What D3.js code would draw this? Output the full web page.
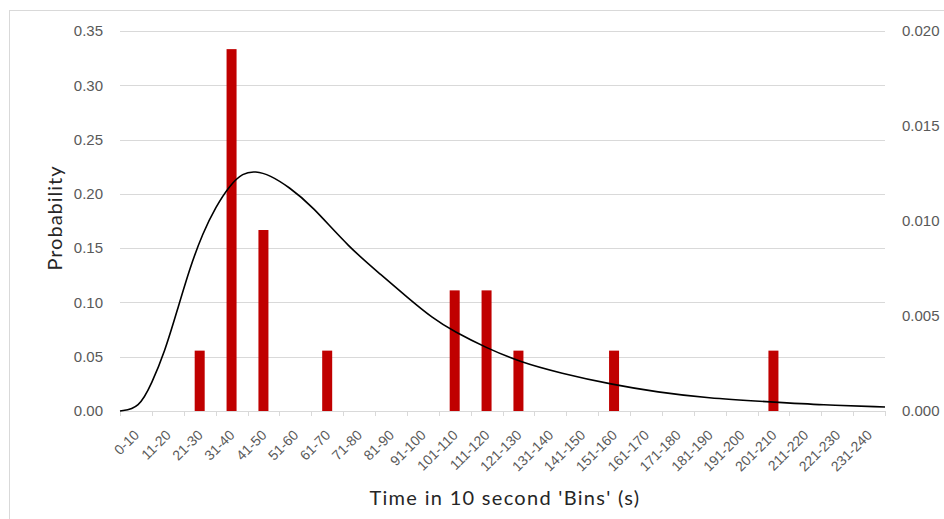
<!DOCTYPE html>
<html>
<head>
<meta charset="utf-8">
<script src="https://cdn.jsdelivr.net/npm/d3@7"></script>
<style>
  body { margin: 0; background: #fff; }
  svg { font-family: Lato, "Open Sans", sans-serif; }
</style>
</head>
<body>
<div id="chart"></div>
<script>
// bins on the x axis
var bins = ["0-10", "11-20", "21-30", "31-40", "41-50", "51-60", "61-70", "71-80",
  "81-90", "91-100", "101-110", "111-120", "121-130", "131-140", "141-150", "151-160",
  "161-170", "171-180", "181-190", "191-200", "201-210", "211-220", "221-230", "231-240"];

// observed probability per bin (bars, left axis)
var probs = [0, 0, 0.0556, 0.3333, 0.1667, 0, 0.0556, 0, 0, 0, 0.1111, 0.1111,
  0.0556, 0, 0, 0.0556, 0, 0, 0, 0, 0.0556, 0, 0, 0];

// fitted density curve (right axis)
var curveTimes = [0, 6, 10, 14, 18, 22, 26, 30, 34.5, 38.5, 42.5, 47, 53, 60,
  72, 82, 90, 98, 105, 115, 125.5, 138, 155, 168.5, 184, 205, 220, 240];
var curveDens = [0, 0.00014, 0.00147, 0.00310, 0.00532, 0.00758, 0.00937, 0.01074,
  0.01189, 0.01253, 0.01263, 0.01242, 0.01179, 0.01084, 0.00858, 0.00716,
  0.00600, 0.00489, 0.00416, 0.00332, 0.00258, 0.00200, 0.00137, 0.00100,
  0.00068, 0.00047, 0.00032, 0.00021];

var leftTicks = [0, 0.05, 0.10, 0.15, 0.20, 0.25, 0.30, 0.35];
var rightTicks = [0, 0.005, 0.010, 0.015, 0.020];

var svgWidth = 944;
var svgHeight = 519;

var margin = { top: 31, right: 59, bottom: 108, left: 120 };
var width = svgWidth - margin.left - margin.right;
var height = svgHeight - margin.top - margin.bottom;

var svg = d3.select("#chart")
  .append("svg")
  .attr("width", svgWidth)
  .attr("height", svgHeight);

// chart frame
svg.append("rect")
  .attr("x", 9.5)
  .attr("y", 10.5)
  .attr("width", 1000)
  .attr("height", 600)
  .attr("fill", "none")
  .attr("stroke", "#d9d9d9");

var chartGroup = svg.append("g")
  .attr("transform", `translate(${margin.left}, ${margin.top})`);

// scales
var xBand = d3.scaleBand().domain(bins).range([0, width]).paddingInner(0).paddingOuter(0);
var xTime = d3.scaleLinear().domain([0, 240]).range([0, width]);
var yLeft = d3.scaleLinear().domain([0, 0.35]).range([height, 0]);
var yRight = d3.scaleLinear().domain([0, 0.020]).range([height, 0]);

// gridlines
chartGroup.selectAll("line.grid")
  .data(leftTicks)
  .enter()
  .append("line")
  .attr("class", "grid")
  .attr("x1", 0)
  .attr("x2", width)
  .attr("y1", d => Math.round(yLeft(d)) + 0.5)
  .attr("y2", d => Math.round(yLeft(d)) + 0.5)
  .attr("stroke", "#d9d9d9")
  .attr("stroke-width", 1);

// tick marks at bin boundaries
var bounds = bins.map(d => xBand(d)).concat([width]);
chartGroup.selectAll("line.xtick")
  .data(bounds)
  .enter()
  .append("line")
  .attr("class", "xtick")
  .attr("x1", d => Math.round(d) + 0.5)
  .attr("x2", d => Math.round(d) + 0.5)
  .attr("y1", height)
  .attr("y2", height + 5)
  .attr("stroke", "#d9d9d9");

// left axis
var leftAxis = d3.axisLeft(yLeft)
  .tickValues(leftTicks)
  .tickFormat(d3.format(".2f"))
  .tickSize(0)
  .tickPadding(17);
var yAxisL = chartGroup.append("g").call(leftAxis);
yAxisL.select(".domain").remove();
yAxisL.selectAll("text")
  .attr("fill", "#595959")
  .style("font-size", "15px");

// right axis
var rightAxis = d3.axisRight(yRight)
  .tickValues(rightTicks)
  .tickFormat(d3.format(".3f"))
  .tickSize(0)
  .tickPadding(17);
var yAxisR = chartGroup.append("g")
  .attr("transform", `translate(${width}, 0)`)
  .call(rightAxis);
yAxisR.select(".domain").remove();
yAxisR.selectAll("text")
  .attr("fill", "#595959")
  .style("font-size", "15px");

// bottom axis (labels only)
var bottomAxis = d3.axisBottom(xBand).tickSize(0).tickPadding(0);
var xAxis = chartGroup.append("g")
  .attr("transform", `translate(0, ${height})`)
  .call(bottomAxis);
xAxis.select(".domain")
  .attr("stroke", "#d9d9d9");
xAxis.selectAll("text")
  .attr("fill", "#595959")
  .style("font-size", "14px")
  .attr("text-anchor", "end")
  .attr("transform", "translate(4, 25) rotate(-45)")
  .attr("dy", 0)
  .attr("y", 0);

// bars
var barW = 10;
chartGroup.selectAll("rect.bar")
  .data(probs)
  .enter()
  .append("rect")
  .attr("class", "bar")
  .attr("x", (d, i) => xBand(bins[i]) + xBand.bandwidth() / 2 - barW / 2)
  .attr("y", d => yLeft(d))
  .attr("width", barW)
  .attr("height", d => height - yLeft(d))
  .attr("fill", "#c00000");

// density curve
var line = d3.line()
  .x((d, i) => xTime(curveTimes[i]))
  .y(d => yRight(d))
  .curve(d3.curveBasis);

chartGroup.append("path")
  .datum(curveDens)
  .attr("d", line)
  .attr("fill", "none")
  .attr("stroke", "#000")
  .attr("stroke-width", 1.6);

// axis titles
svg.append("text")
  .attr("transform", "translate(62, 218) rotate(-90)")
  .attr("text-anchor", "middle")
  .attr("fill", "#262626")
  .style("font-size", "20px")
  .style("letter-spacing", "1px")
  .text("Probability");

svg.append("text")
  .attr("x", 505)
  .attr("y", 505)
  .attr("text-anchor", "middle")
  .attr("fill", "#262626")
  .style("font-size", "20px")
  .style("letter-spacing", "1.3px")
  .text("Time in 10 second 'Bins' (s)");
</script>
</body>
</html>
